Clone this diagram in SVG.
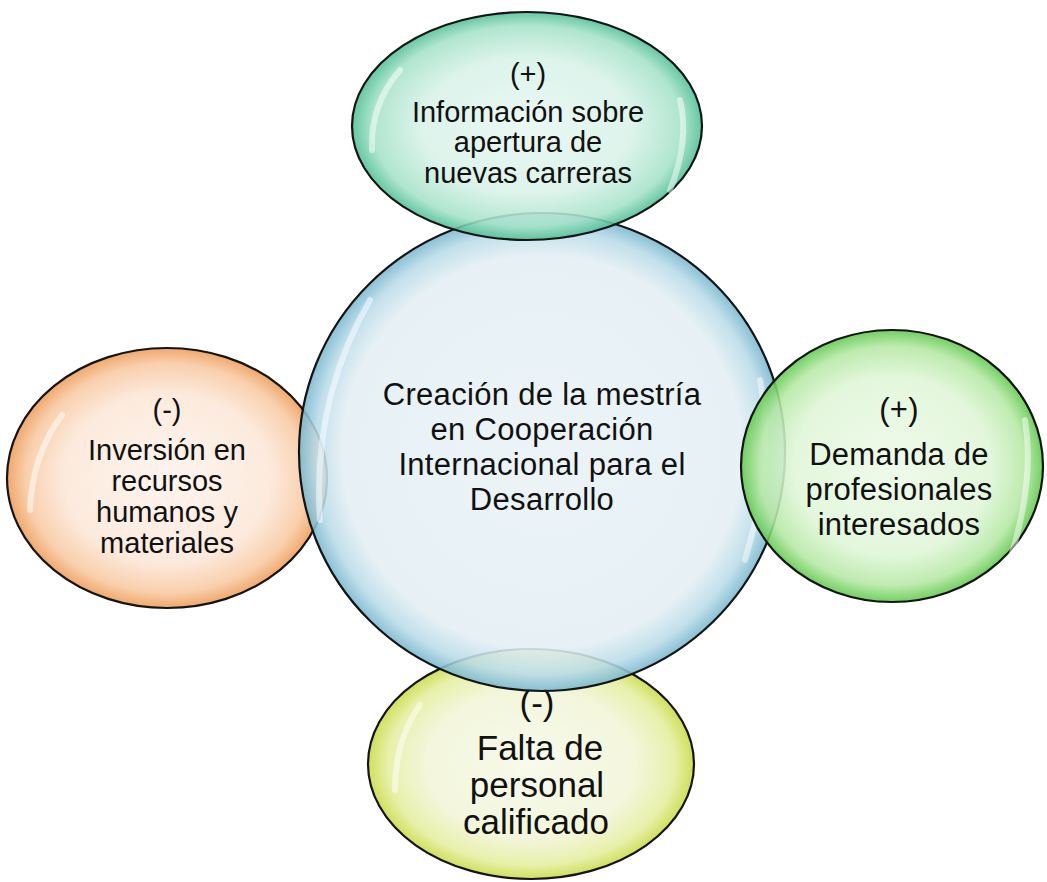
<svg xmlns="http://www.w3.org/2000/svg" width="1047" height="882" viewBox="0 0 1047 882">
<style>
.b{stroke:#141414;stroke-width:2.2;fill-opacity:0.88}
.hl{fill:none;stroke:#ffffff;stroke-width:6;stroke-linecap:round;stroke-opacity:0.5}
text{font-family:"Liberation Sans",Arial,sans-serif;fill:#111;text-anchor:middle}
</style>
<defs>
<radialGradient id="gBlue" cx="50%" cy="50%" r="50%">
<stop offset="0" stop-color="#e9f2f6"/><stop offset="0.82" stop-color="#e4eff4"/><stop offset="0.93" stop-color="#b9dbe8"/><stop offset="1" stop-color="#78b7cf"/>
</radialGradient>
<radialGradient id="gTeal" cx="50%" cy="50%" r="50%">
<stop offset="0" stop-color="#e7f7f1"/><stop offset="0.6" stop-color="#d8f2e8"/><stop offset="0.88" stop-color="#a5e2c9"/><stop offset="1" stop-color="#4fbf95"/>
</radialGradient>
<radialGradient id="gOrange" cx="50%" cy="50%" r="50%">
<stop offset="0" stop-color="#fdf3ec"/><stop offset="0.65" stop-color="#fce7d8"/><stop offset="0.88" stop-color="#f8c9a2"/><stop offset="1" stop-color="#ee9c58"/>
</radialGradient>
<radialGradient id="gGreen" cx="50%" cy="50%" r="50%">
<stop offset="0" stop-color="#ecf9e7"/><stop offset="0.65" stop-color="#e0f6d8"/><stop offset="0.88" stop-color="#b5e8a4"/><stop offset="1" stop-color="#5fc94c"/>
</radialGradient>
<radialGradient id="gYellow" cx="50%" cy="50%" r="50%">
<stop offset="0" stop-color="#f7f9e9"/><stop offset="0.65" stop-color="#f1f5d6"/><stop offset="0.88" stop-color="#e4ee9e"/><stop offset="1" stop-color="#c9db45"/>
</radialGradient>
</defs>

<g id="node-left">
<ellipse class="b" cx="167" cy="478" rx="160" ry="130" fill="url(#gOrange)"/>
<path class="hl" d="M30,510 Q32,455 62,415"/>
<text font-size="29"><tspan x="167" y="420">(-)</tspan><tspan x="167" y="460">Inversión en</tspan><tspan x="167" y="491">recursos</tspan><tspan x="167" y="522">humanos y</tspan><tspan x="167" y="553">materiales</tspan></text>
</g>

<g id="node-bottom">
<ellipse class="b" cx="531" cy="764" rx="163" ry="115" fill="url(#gYellow)"/>
<path class="hl" d="M395,790 Q395,740 420,705"/>
<text font-size="35"><tspan x="537" y="715">(-)</tspan><tspan x="540" y="760">Falta de</tspan><tspan x="537" y="797">personal</tspan><tspan x="536" y="834">calificado</tspan></text>
</g>

<g id="node-center">
<ellipse class="b" cx="542" cy="452" rx="243" ry="239" fill="url(#gBlue)"/>
<path class="hl" d="M320,520 Q312,400 370,300"/>
<path class="hl" d="M760,380 Q775,460 745,560"/>
<text font-size="31" letter-spacing="0.3"><tspan x="542" y="405">Creación de la mestría</tspan><tspan x="542" y="440">en Cooperación</tspan><tspan x="542" y="475">Internacional para el</tspan><tspan x="542" y="510">Desarrollo</tspan></text>
</g>

<g id="node-top">
<ellipse class="b" cx="527" cy="126" rx="175" ry="114" fill="url(#gTeal)"/>
<path class="hl" d="M372,150 Q370,105 400,70"/>
<path class="hl" d="M680,100 Q690,140 670,190"/>
<text font-size="29"><tspan x="528" y="84">(+)</tspan><tspan x="528" y="122">Información sobre</tspan><tspan x="528" y="152">apertura de</tspan><tspan x="528" y="183">nuevas carreras</tspan></text>
</g>

<g id="node-right">
<ellipse class="b" cx="892" cy="466" rx="151" ry="136" fill="url(#gGreen)"/>
<path class="hl" d="M1025,420 Q1035,480 1010,560"/>
<text font-size="31" letter-spacing="0.2"><tspan x="899" y="420">(+)</tspan><tspan x="899" y="465">Demanda de</tspan><tspan x="899" y="500">profesionales</tspan><tspan x="899" y="535">interesados</tspan></text>
</g>

<g id="connectors"></g>
</svg>
